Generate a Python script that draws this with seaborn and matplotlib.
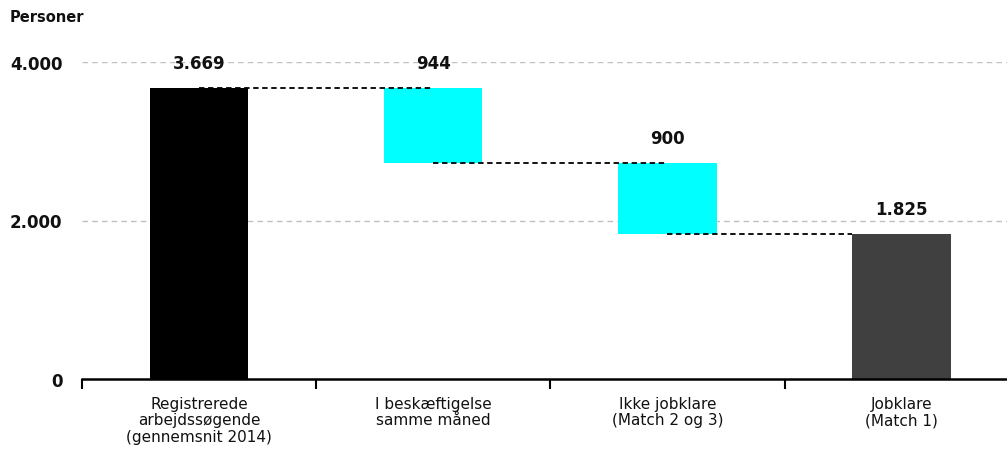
import matplotlib
matplotlib.use("Agg")
import matplotlib.pyplot as plt
import seaborn as sns
import numpy as np

categories = ["Registrerede\narbejdssøgende\n(gennemsnit 2014)",
              "I beskæftigelse\nsamme måned",
              "Ikke jobklare\n(Match 2 og 3)",
              "Jobklare\n(Match 1)"]
values = [3669, 944, 900, 1825]
bar_colors = ["#000000", "#00FFFF", "#00FFFF", "#404040"]
value_labels = ["3.669", "944", "900", "1.825"]
yticks = [0, 2000, 4000]
ytick_labels = ["0", "2.000", "4.000"]

# waterfall geometry derived from values
tops = [values[0], values[0], values[0] - values[1], values[3]]
bottoms = [0, values[0] - values[1], values[0] - values[1] - values[2], 0]
heights = [t - b for t, b in zip(tops, bottoms)]

sns.set_theme(style="white")
plt.rcParams['font.family'] = ['DejaVu Sans']

fig = plt.figure(figsize=(10.07, 4.60), dpi=100)
ax = fig.add_axes([82/1007, 80/460, 925/1007, 317/460])

bar_w = 0.42
xpos = list(range(len(categories)))
sns.barplot(x=xpos, y=heights, bottom=bottoms, color="black", width=bar_w,
            ax=ax, native_scale=True, linewidth=0, zorder=2)
for p, c in zip(ax.patches, bar_colors):
    p.set_facecolor(c)
    p.set_edgecolor("none")

# connectors
levels = [tops[0], bottoms[1], bottoms[2]]
for i, level in enumerate(levels):
    x0 = i
    x1 = i + 1 if i + 1 < len(categories) - 1 else (i + 1) - bar_w / 2
    ax.plot([x0, x1], [level, level], color="black", linestyle=(0, (3, 2)),
            linewidth=1.3, zorder=3)

# value labels
for i, (t, lab) in enumerate(zip(tops, value_labels)):
    ax.annotate(lab, (i, t), xytext=(0, 25), textcoords="offset pixels",
                ha="center", va="center", fontsize=12, fontweight="bold",
                color="#111111", annotation_clip=False)

ax.set_yticks(yticks)
ax.set_yticklabels(ytick_labels, fontsize=12, fontweight="bold", color="#111111")
ax.tick_params(axis="y", length=0, pad=14)
for y in yticks[1:]:
    ax.axhline(y, color="#c0c0c0", linestyle=(0, (4, 3)), linewidth=1.0, zorder=1)

ax.set_xticks(xpos)
ax.set_xticklabels(categories, fontsize=11, color="#111111", linespacing=1.15)
ax.tick_params(axis="x", which="major", length=0, pad=12)
ax.set_xticks([-0.5, 0.5, 1.5, 2.5, 3.5], minor=True)
ax.tick_params(axis="x", which="minor", length=7, width=1.5, color="black",
               direction="out", bottom=True)

ax.set_xlim(-0.5, 3.45)
ax.set_ylim(0, 4000)

for s in ["top", "right", "left"]:
    ax.spines[s].set_visible(False)
ax.spines["bottom"].set_color("black")
ax.spines["bottom"].set_linewidth(1.8)
ax.set_xlabel("")
ax.set_ylabel("")
ax.grid(False)

fig.text(10/1007, 1 - 18/460, "Personer", fontsize=10.5, fontweight="bold",
         color="#111111", ha="left", va="center")

fig.savefig("out.png", dpi=100)
